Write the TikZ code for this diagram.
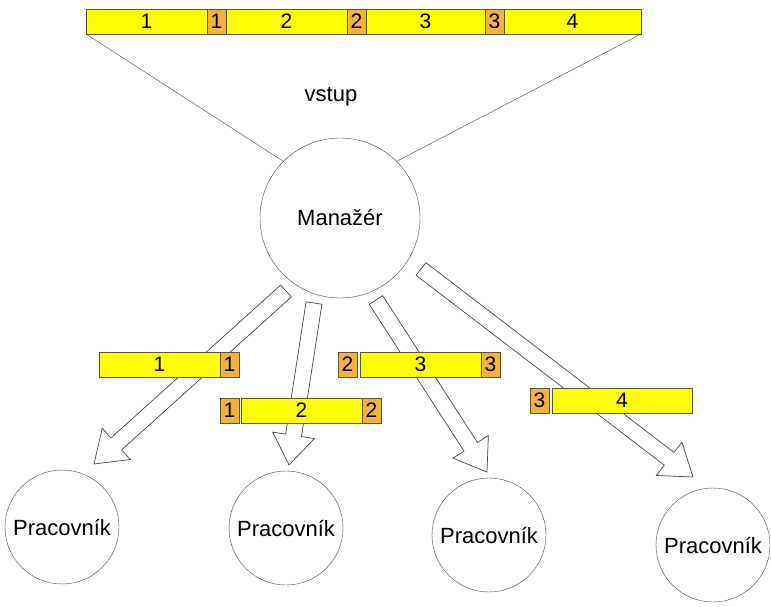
\documentclass[tikz,border=0pt]{standalone}
\usepackage{fontspec}
\setmainfont{Liberation Sans}
\usepackage{xcolor}
\usepackage{tikz}
\usetikzlibrary{positioning, calc}

\definecolor{cellyellow}{RGB}{255,255,0}
\definecolor{cellorange}{RGB}{242,178,60}
\definecolor{celledge}{RGB}{95,85,40}
\definecolor{inkgray}{RGB}{70,70,70}

% hollow block arrow from tail #1 to tip #2
\newcommand{\blockarrow}[2]{%
  \coordinate (hb) at ($(#2)!30pt!(#1)$);
  \draw[blockarr] ($(#1)!8pt!90:(#2)$) -- ($(hb)!8pt!90:(#2)$)
    -- ($(hb)!21pt!90:(#2)$) -- (#2) -- ($(hb)!21pt!-90:(#2)$)
    -- ($(hb)!8pt!-90:(#2)$) -- ($(#1)!8pt!-90:(#2)$) -- cycle;}

\begin{document}
\begin{tikzpicture}[
      x=1pt, y=-1pt,
      font=\fontsize{22}{26}\selectfont,
      ycell/.style ={rectangle, draw=celledge, fill=cellyellow, minimum width=121pt, minimum height=25pt, inner sep=0pt, outer sep=0pt, font=\fontsize{21}{24}\selectfont},
      ocell/.style ={rectangle, draw=celledge, fill=cellorange, minimum width=19pt, minimum height=25pt, inner sep=0pt, outer sep=0pt, font=\fontsize{21}{24}\selectfont},
      boss/.style  ={circle, draw=inkgray, minimum size=160pt, inner sep=0pt},
      worker/.style={circle, draw=inkgray, minimum size=114pt, inner sep=0pt},
      blockarr/.style={draw=inkgray, fill=white, line width=0.7pt, line join=miter},
      node distance=0pt
    ]
    \useasboundingbox (0,0) rectangle (771,606);

    % Vstupni pole nahore
    \node[ycell, anchor=north west] (t1) at (86,9) {1};
    \node[ocell, right=of t1]  (tk1) {1};
    \node[ycell, right=of tk1] (t2)  {2};
    \node[ocell, right=of t2]  (tk2) {2};
    \node[ycell, right=of tk2, minimum width=119pt] (t3) {3};
    \node[ocell, right=of t3]  (tk3) {3};
    \node[ycell, right=of tk3, minimum width=137pt] (t4) {4};

    % Manazer
    \node[boss] (man) at (340,218) {Manažér};
    \node (vstup) at (331,97) {vstup};
    \draw[inkgray] (t1.south west) -- (man.135);
    \draw[inkgray] (t4.south east) -- (man.45);

    % Pracovnici
    \node[worker] (w1) at (62,527) {Pracovník};
    \node[worker] (w2) at (286,528) {Pracovník};
    \node[worker] (w3) at (489,535) {Pracovník};
    \node[worker] (w4) at (713,545) {Pracovník};

    % Sipky od manazera k pracovnikum
    \coordinate (s1) at (286,291);  \coordinate (e1) at (94,464);
    \coordinate (s2) at (314,303);  \coordinate (e2) at (289,465);
    \coordinate (s3) at (376,300);  \coordinate (e3) at (487,472);
    \coordinate (s4) at (421,269);  \coordinate (e4) at (693,477);
    \blockarrow{s1}{e1}
    \blockarrow{s2}{e2}
    \blockarrow{s3}{e3}
    \blockarrow{s4}{e4}

    % Casti pro jednotlive pracovniky
    \node[ycell, anchor=north west] (a1) at (99,352) {1};
    \node[ocell, right=of a1] (ak1) {1};

    \node[ocell, anchor=north west] (bk1) at (220,398) {1};
    \node[ycell, right=2pt of bk1] (b2) {2};
    \node[ocell, right=of b2] (bk2) {2};

    \node[ocell, anchor=north west] (ck2) at (338,352) {2};
    \node[ycell, right=3pt of ck2] (c3) {3};
    \node[ocell, right=of c3] (ck3) {3};

    \node[ocell, anchor=north west] (dk3) at (530,388) {3};
    \node[ycell, right=3pt of dk3, minimum width=140pt] (d4) {4};

  \end{tikzpicture}
\end{document}
